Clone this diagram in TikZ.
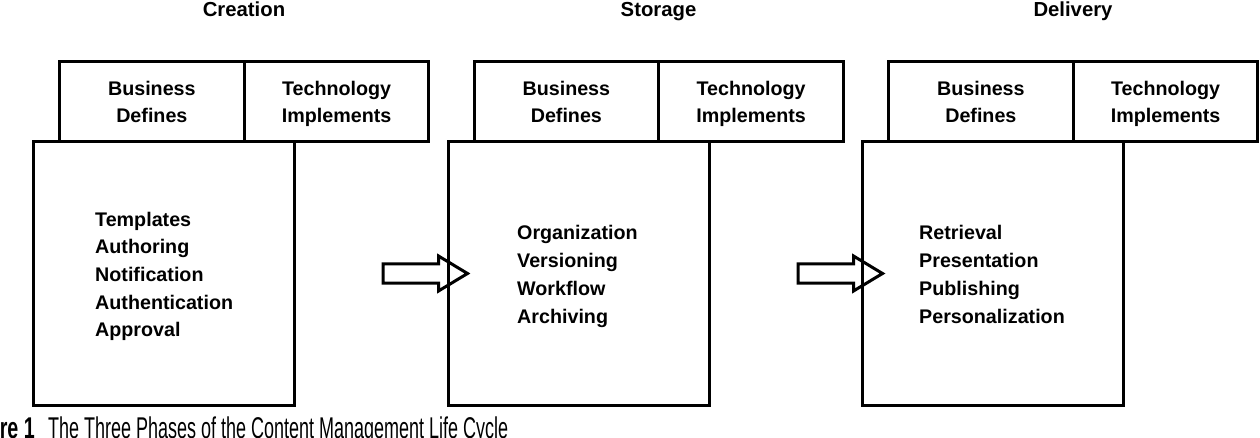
\documentclass[tikz,border=0pt]{standalone}
\usepackage{fontspec}
\setmainfont{Liberation Sans}
\begin{document}
\begin{tikzpicture}[x=1pt,y=-1pt,
  box/.style={draw, line width=3pt, inner sep=0pt},
  headbox/.style={box, minimum width=184.3pt, minimum height=80.4pt,
     align=center, text depth=0pt,
     font=\bfseries\fontsize{19.7}{27}\selectfont},
  mainbox/.style={box, minimum width=260.9pt, minimum height=263.3pt},
  phasetitle/.style={inner sep=0pt, anchor=base, font=\bfseries\fontsize{20.3}{24}\selectfont},
  items/.style={inner sep=0pt, anchor=north west, align=left,
     font=\bfseries\fontsize{19.7}{27.7}\selectfont},
  blockarr/.style={draw, line width=3pt, line join=miter},
  captxt/.style={inner sep=0pt, anchor=base west, font=\fontsize{30}{34}\selectfont}]
\useasboundingbox (0,0) rectangle (1260,438);
\clip (0,0) rectangle (1260,438);

% ---- blocks ----
\foreach \i/\dx/\ttl in {1/0/Creation, 2/414.5/Storage, 3/829/Delivery}{
  \node[phasetitle] (title\i) at (244+\dx, 16.7) {\ttl};
  \node[mainbox] (main\i) at (164.25+\dx, 273.35) {};
  \node[headbox] (biz\i) at (151.85+\dx, 101.5) {Business\\Defines};
  \node[headbox] (tech\i) at (336.6+\dx, 101.5) {Technology\\Implements};
}

% ---- items ----
\node[items] (it1) at (95, 211.7) {Templates\\Authoring\\Notification\\Authentication\\Approval};
\node[items] (it2) at (517, 225.5) {Organization\\Versioning\\Workflow\\Archiving};
\node[items] (it3) at (919, 225.5) {Retrieval\\Presentation\\Publishing\\Personalization};

% ---- block arrows ----
\coordinate (ar1) at (383, 273.5);
\coordinate (ar2) at (798, 273.5);
\foreach \a in {ar1, ar2}{
  \draw[blockarr] (\a) ++(0,-9.5) -- ++(55.5,0) -- ++(0,-8) -- ++(29,17.5)
     -- ++(-29,17.5) -- ++(0,-8) -- ++(-55.5,0) -- cycle;
}

% ---- caption (cut off by the page edge) ----
\node[captxt, anchor=base east] (capnum) at (35, 438.5) {\resizebox{35pt}{\height}{\bfseries re 1}};
\node[captxt] (cap) at (48, 438.5) {\resizebox{460pt}{\height}{The Three Phases of the Content Management Life Cycle}};
\end{tikzpicture}
\end{document}
